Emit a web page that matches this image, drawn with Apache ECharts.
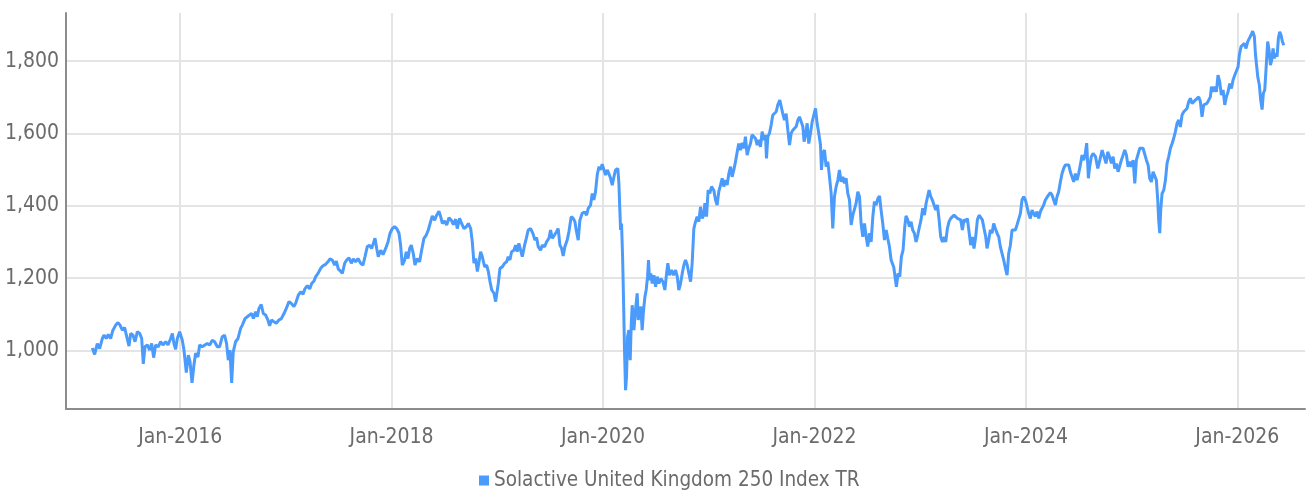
<!DOCTYPE html>
<html>
<head>
<meta charset="UTF-8">
<title>Solactive United Kingdom 250 Index TR</title>
<script type="text/javascript" src="https://cdn.jsdelivr.net/npm/echarts@6.0.0/dist/echarts.min.js"></script>
<style>
    *{margin:0;padding:0}
    html,body{width:100%;height:100%;background:#fff}
    #main{width:1306px;height:496px}
</style>
</head>
<body>
<div id="main"></div>
<script type="text/javascript">
// time as fractional years, index level
var dates = [
  // 2015 - early 2017
  2015.169,2015.191,2015.216,2015.238,2015.264,2015.279,2015.301,2015.320,2015.342,2015.364,
  2015.390,2015.412,2015.431,2015.453,2015.475,2015.491,2015.516,2015.532,2015.554,2015.573,
  2015.595,2015.617,2015.636,2015.651,2015.667,2015.689,2015.711,2015.730,2015.749,2015.768,
  2015.793,2015.815,2015.837,2015.863,2015.885,2015.910,2015.926,2015.941,2015.957,2015.973,
  2015.995,2016.020,2016.036,2016.058,2016.077,2016.093,2016.112,2016.130,2016.146,2016.168,
  2016.184,2016.209,2016.234,2016.256,2016.279,2016.304,2016.326,2016.351,2016.373,2016.398,
  2016.420,2016.439,2016.455,2016.471,2016.487,2016.502,2016.524,2016.547,2016.572,2016.588,
  2016.613,2016.635,2016.657,2016.676,2016.692,2016.714,2016.729,2016.745,2016.767,2016.786,
  2016.808,2016.830,2016.846,2016.865,2016.887,2016.909,2016.934,2016.957,2016.982,2017.004,
  2017.029,2017.051,2017.076,2017.092,
  // 2017 - 2018
  2017.118,2017.140,2017.162,2017.181,2017.203,2017.225,2017.244,2017.266,2017.282,2017.304,
  2017.329,2017.351,2017.376,2017.398,2017.417,2017.439,2017.461,2017.477,2017.496,2017.518,
  2017.534,2017.556,2017.575,2017.597,2017.619,2017.638,2017.660,2017.682,2017.707,2017.729,
  2017.748,2017.770,2017.792,2017.811,2017.827,2017.843,2017.859,2017.874,2017.897,2017.919,
  2017.944,2017.966,2017.985,2018.007,2018.029,2018.048,2018.070,2018.085,2018.101,2018.123,
  2018.139,2018.155,2018.171,2018.186,2018.205,2018.221,2018.243,2018.265,2018.284,2018.306,
  2018.328,2018.347,2018.369,2018.385,2018.407,2018.426,2018.448,2018.464,2018.480,2018.501,
  2018.521,2018.543,2018.565,2018.584,2018.606,2018.621,2018.643,2018.662,2018.685,2018.707,
  2018.726,2018.748,2018.763,2018.779,2018.795,2018.811,2018.827,2018.842,2018.858,2018.880,
  2018.899,2018.915,2018.931,2018.947,2018.968,2018.984,
  // 2019 - 2020
  2019.009,2019.025,2019.047,2019.069,2019.088,2019.103,2019.119,2019.135,2019.157,2019.173,
  2019.188,2019.204,2019.220,2019.236,2019.258,2019.274,2019.292,2019.315,2019.337,2019.356,
  2019.371,2019.387,2019.409,2019.425,2019.447,2019.466,2019.488,2019.504,2019.519,2019.541,
  2019.560,2019.576,2019.592,2019.608,2019.623,2019.639,2019.661,2019.677,2019.699,2019.718,
  2019.734,2019.746,2019.765,2019.781,2019.803,2019.825,2019.844,2019.860,2019.882,2019.898,
  2019.913,2019.929,2019.945,2019.961,2019.976,2019.992,2020.008,2020.024,2020.040,2020.055,
  2020.071,2020.087,2020.103,2020.118,2020.140,2020.150,2020.159,2020.166,2020.175,2020.185,
  2020.194,2020.203,2020.213,2020.222,2020.232,2020.244,2020.257,2020.267,2020.276,2020.292,
  2020.307,2020.323,2020.333,2020.345,2020.358,2020.370,2020.383,2020.396,2020.408,2020.421,
  2020.430,2020.440,2020.452,2020.465,2020.481,2020.497,2020.512,2020.528,2020.547,2020.566,
  2020.585,2020.601,2020.613,2020.629,2020.648,2020.667,2020.686,2020.702,2020.717,2020.733,
  2020.749,2020.765,2020.780,2020.796,2020.812,2020.828,2020.843,
  // late 2020 - 2022
  2020.859,2020.875,2020.890,2020.906,2020.922,2020.938,2020.953,2020.963,2020.979,2020.994,
  2021.010,2021.026,2021.048,2021.064,2021.079,2021.095,2021.111,2021.127,2021.142,2021.158,
  2021.174,2021.190,2021.206,2021.221,2021.237,2021.253,2021.269,2021.284,2021.300,2021.316,
  2021.332,2021.347,2021.363,2021.379,2021.395,2021.410,2021.426,2021.442,2021.458,2021.474,
  2021.489,2021.505,2021.521,2021.537,2021.546,2021.559,2021.574,2021.590,2021.606,2021.622,
  2021.638,2021.653,2021.672,2021.685,2021.700,2021.716,2021.732,2021.748,2021.764,2021.779,
  2021.795,2021.811,2021.827,2021.843,2021.858,2021.874,2021.890,2021.902,2021.918,2021.931,
  2021.946,2021.962,2021.978,2021.994,2022.010,2022.025,2022.041,2022.057,2022.066,2022.079,
  2022.095,2022.110,2022.126,2022.142,2022.158,2022.173,2022.189,2022.205,2022.221,2022.236,
  2022.252,2022.268,2022.284,2022.299,2022.315,2022.331,2022.347,2022.363,2022.378,2022.394,
  2022.410,2022.426,2022.441,2022.457,2022.473,2022.489,2022.504,2022.520,2022.536,2022.552,
  2022.567,2022.583,2022.599,2022.615,2022.630,2022.646,2022.662,2022.678,2022.693,2022.709,
  2022.725,
  // late 2022 - mid 2024
  2022.750,2022.775,2022.791,2022.807,2022.822,2022.838,2022.854,2022.866,2022.882,2022.898,
  2022.914,2022.929,2022.945,2022.961,2022.977,2022.993,2023.008,2023.024,2023.040,2023.056,
  2023.071,2023.084,2023.100,2023.115,2023.131,2023.147,2023.163,2023.179,2023.194,2023.210,
  2023.226,2023.242,2023.257,2023.273,2023.289,2023.305,2023.320,2023.336,2023.352,2023.368,
  2023.383,2023.399,2023.415,2023.431,2023.446,2023.462,2023.478,2023.494,2023.509,2023.525,
  2023.541,2023.557,2023.573,2023.588,2023.604,2023.620,2023.632,2023.648,2023.664,2023.680,
  2023.695,2023.711,2023.727,2023.743,2023.758,2023.774,2023.790,2023.806,2023.822,2023.837,
  2023.853,2023.869,2023.885,2023.900,2023.916,2023.932,2023.948,2023.963,2023.979,2023.995,
  2024.011,2024.026,2024.042,2024.058,2024.074,2024.089,2024.105,2024.121,2024.137,2024.152,
  2024.168,2024.184,2024.200,2024.215,2024.231,2024.247,2024.263,2024.279,2024.294,2024.310,
  2024.326,2024.342,2024.357,2024.373,2024.389,2024.405,2024.420,2024.436,2024.452,2024.468,
  2024.484,2024.499,2024.515,2024.531,2024.547,2024.562,2024.575,2024.591,2024.603,2024.619,
  2024.635,2024.651,
  // mid 2024 - 2026
  2024.658,2024.680,2024.699,2024.721,2024.736,2024.758,2024.774,2024.790,2024.809,2024.825,
  2024.840,2024.856,2024.872,2024.888,2024.903,2024.919,2024.935,2024.951,2024.966,2024.982,
  2024.998,2025.014,2025.030,2025.045,2025.061,2025.077,2025.093,2025.108,2025.124,2025.140,
  2025.156,2025.171,2025.187,2025.203,2025.219,2025.234,2025.247,2025.256,2025.266,2025.275,
  2025.288,2025.304,2025.320,2025.335,2025.351,2025.367,2025.383,2025.398,2025.414,2025.430,
  2025.446,2025.461,2025.477,2025.493,2025.509,2025.524,2025.540,2025.556,2025.572,2025.587,
  2025.603,2025.619,2025.635,2025.650,2025.666,2025.682,2025.698,2025.713,2025.729,2025.745,
  2025.755,2025.770,2025.786,2025.802,2025.817,2025.833,2025.849,2025.865,2025.881,2025.896,
  2025.912,2025.928,2025.944,2025.959,2025.975,2025.991,2026.007,2026.019,2026.035,2026.051,
  2026.067,2026.082,2026.098,2026.114,2026.130,2026.145,2026.161,2026.171,2026.180,2026.193,
  2026.208,2026.221,2026.234,2026.246,2026.259,2026.271,2026.287,2026.300,2026.313,2026.325,
  2026.338,2026.350,2026.363,2026.376,2026.388,2026.401,2026.413,2026.426,2026.439
];

var values = [
  1007,989,1019,1005,1033,1042,1033,1044,1033,1056,
  1070,1077,1070,1056,1063,1042,1012,1047,1042,1024,
  1052,1047,1033,963,1010,1015,1001,1019,980,1015,
  1010,1024,1015,1024,1015,1033,1047,1019,1003,1033,
  1052,1028,1001,939,987,969,910,959,992,982,
  1015,1010,1015,1019,1015,1028,1024,1010,1010,1038,
  1042,1019,973,1001,910,996,1024,1033,1061,1070,
  1088,1093,1098,1102,1088,1107,1093,1116,1127,1102,
  1098,1084,1068,1084,1079,1075,1084,1088,1102,1116,
  1135,1130,1121,1130,

  1153,1162,1155,1171,1179,1170,1185,1192,1204,1213,
  1227,1234,1238,1245,1253,1250,1236,1247,1225,1219,
  1213,1241,1250,1256,1241,1253,1245,1254,1241,1236,
  1259,1287,1291,1282,1296,1310,1282,1259,1277,1265,
  1282,1300,1324,1337,1342,1337,1324,1291,1236,1250,
  1273,1254,1282,1291,1268,1236,1254,1245,1277,1310,
  1319,1333,1356,1372,1360,1374,1385,1370,1351,1358,
  1347,1367,1360,1348,1363,1337,1365,1351,1337,1342,
  1351,1337,1301,1241,1254,1218,1245,1273,1259,1231,
  1236,1218,1190,1167,1158,1135,

  1185,1227,1231,1241,1245,1259,1250,1273,1277,1291,
  1273,1296,1300,1259,1291,1310,1333,1337,1323,1305,
  1312,1287,1277,1291,1287,1300,1310,1333,1310,1319,
  1328,1337,1291,1282,1261,1287,1305,1328,1370,1365,
  1356,1333,1305,1360,1379,1383,1374,1393,1402,1434,
  1416,1439,1485,1508,1499,1515,1510,1485,1499,1489,
  1476,1457,1480,1499,1503,1462,1388,1333,1351,1259,
  1139,1001,890,927,1038,1056,973,1075,1125,1056,
  1111,1158,1084,1102,1121,1056,1111,1148,1167,1204,
  1250,1194,1213,1185,1208,1176,1204,1185,1199,1190,
  1167,1213,1241,1208,1222,1208,1222,1204,1167,1185,
  1213,1236,1250,1236,1241,1190,1241,

  1337,1356,1370,1356,1397,1365,1374,1407,1370,1443,
  1434,1453,1443,1416,1402,1439,1457,1476,1453,1471,
  1457,1489,1508,1480,1499,1522,1549,1572,1554,1574,
  1559,1591,1540,1559,1572,1596,1600,1586,1568,1582,
  1563,1605,1582,1596,1531,1591,1600,1623,1651,1646,
  1660,1679,1692,1688,1655,1637,1655,1609,1568,1600,
  1609,1609,1619,1637,1646,1646,1619,1577,1600,1628,
  1572,1600,1632,1651,1669,1628,1600,1568,1499,1545,
  1554,1508,1522,1480,1434,1337,1425,1453,1471,1499,
  1466,1480,1462,1476,1434,1416,1347,1374,1370,1407,
  1439,1425,1351,1314,1351,1314,1287,1324,1300,1370,
  1411,1402,1420,1427,1388,1351,1305,1333,1310,1287,
  1250,

  1230,1176,1213,1204,1259,1277,1342,1372,1361,1342,
  1356,1333,1324,1300,1319,1342,1361,1393,1374,1407,
  1411,1443,1425,1416,1411,1388,1402,1361,1314,1300,
  1314,1300,1337,1356,1365,1370,1374,1379,1365,1370,
  1361,1333,1362,1356,1365,1328,1291,1314,1282,1314,
  1361,1374,1370,1361,1337,1314,1282,1305,1333,1324,
  1351,1337,1324,1314,1287,1268,1250,1227,1208,1268,
  1291,1333,1337,1333,1347,1351,1379,1416,1425,1416,
  1397,1379,1365,1388,1393,1370,1384,1365,1384,1388,
  1402,1416,1411,1430,1436,1430,1434,1402,1425,1439,
  1466,1489,1503,1513,1508,1513,1494,1489,1466,1489,
  1471,1489,1513,1540,1526,1545,1573,1476,1508,1536,
  1545,1540,

  1536,1503,1526,1554,1549,1517,1549,1536,1517,1536,
  1503,1517,1494,1489,1526,1540,1554,1540,1508,1522,
  1508,1526,1462,1526,1526,1559,1563,1559,1554,1526,
  1513,1476,1466,1494,1489,1471,1416,1360,1324,1388,
  1434,1443,1471,1517,1536,1559,1572,1586,1605,1628,
  1637,1618,1651,1660,1655,1669,1688,1697,1683,1688,
  1692,1688,1701,1688,1646,1679,1674,1683,1688,1701,
  1729,1715,1729,1715,1761,1743,1706,1720,1679,1701,
  1715,1738,1724,1747,1761,1766,1784,1817,1840,1844,
  1849,1835,1854,1858,1872,1883,1868,1821,1794,1757,
  1734,1692,1666,1711,1720,1775,1854,1831,1789,1803,
  1835,1808,1821,1812,1863,1881,1872,1854,1844
];

var seriesName = 'Solactive United Kingdom 250 Index TR';

var fontFamily = "'DejaVu Sans Condensed', 'Liberation Sans Narrow', sans-serif";
var textColor = '#6b6b6b';
var lineColor = '#4a9bfc';

var seriesData = dates.map(function (d, i) { return [d, values[i]]; });

var option = {
    animation: false,
    grid: { left: 66, right: 1, top: 13, bottom: 87, containLabel: false, outerBoundsMode: 'none' },
    legend: {
        data: [seriesName],
        left: 479,
        top: 470,
        padding: 0,
        icon: 'rect',
        itemWidth: 10,
        itemHeight: 10,
        itemGap: 5,
        textStyle: { fontFamily: fontFamily, fontSize: 20.5, color: textColor }
    },
    xAxis: {
        type: 'value',
        min: 2014.92,
        max: 2026.64,
        splitNumber: 5,
        axisLine: { show: true, lineStyle: { color: '#8c8c8c', width: 2 } },
        axisTick: { show: false },
        axisLabel: {
            showMinLabel: false,
            showMaxLabel: false,
            margin: 18,
            fontFamily: fontFamily,
            fontSize: 21,
            color: textColor,
            formatter: function (v) {
                return Math.abs(v - Math.round(v)) < 1e-6 ? 'Jan-' + Math.round(v) : '';
            }
        },
        splitLine: {
            show: true,
            showMinLine: false,
            showMaxLine: false,
            lineStyle: { color: '#e4e4e4', width: 2 }
        }
    },
    yAxis: {
        type: 'value',
        min: 838,
        max: 1933,
        splitNumber: 5,
        axisLine: { show: true, lineStyle: { color: '#8c8c8c', width: 2 } },
        axisTick: { show: false },
        axisLabel: {
            showMinLabel: false,
            showMaxLabel: false,
            margin: 7,
            fontFamily: fontFamily,
            fontSize: 21,
            color: textColor,
            formatter: function (v) {
                return v % 200 === 0 ? v.toLocaleString('en-US') : '';
            }
        },
        splitLine: {
            show: true,
            showMinLine: false,
            showMaxLine: false,
            lineStyle: { color: '#e4e4e4', width: 2 }
        }
    },
    series: [
        {
            name: seriesName,
            type: 'line',
            data: seriesData,
            showSymbol: false,
            symbol: 'none',
            lineStyle: { color: lineColor, width: 3 },
            itemStyle: { color: lineColor }
        }
    ]
};

var myChart = echarts.init(document.getElementById('main'));
myChart.setOption(option);
</script>
</body>
</html>
